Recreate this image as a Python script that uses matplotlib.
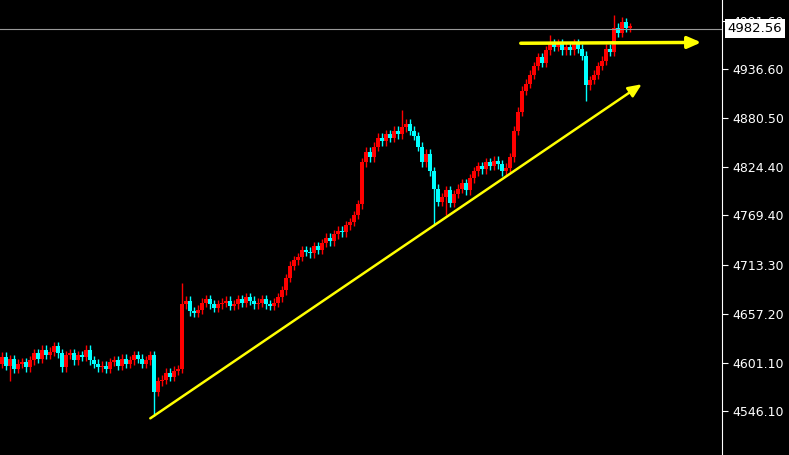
import matplotlib
matplotlib.use("Agg")
from matplotlib import pyplot as plt
from matplotlib.patches import Rectangle

# closes per bar, open = previous close
closes = [4608, 4598, 4605, 4594, 4600, 4602, 4596, 4604, 4612, 4606, 4616, 4610, 4614, 4620, 4612, 4596,
          4610, 4612, 4604, 4610, 4608, 4616, 4604, 4600, 4596, 4598, 4594, 4602, 4604, 4598, 4606, 4600,
          4604, 4610, 4606, 4600, 4604, 4610,
          4568,
          4580, 4582, 4590, 4585, 4592, 4594,
          4668,
          4672, 4660, 4658, 4662, 4670, 4674, 4668, 4664, 4668, 4670, 4672, 4666, 4668, 4674, 4670, 4676,
          4672, 4668, 4670, 4674, 4668, 4666, 4670, 4676, 4684,
          4698, 4712, 4718, 4722, 4730, 4728, 4726, 4734, 4730, 4738,
          4744, 4740, 4748, 4752, 4750, 4758, 4762, 4770, 4782,
          4830, 4842, 4836,
          4848, 4858, 4854, 4862, 4858, 4866, 4862, 4870, 4874, 4866, 4860,
          4848, 4830, 4840, 4820, 4800, 4785, 4790,
          4798, 4784, 4794, 4800, 4806, 4798, 4812, 4820,
          4826, 4822, 4830, 4826, 4832, 4828, 4820, 4824, 4836,
          4866, 4888, 4912, 4920, 4930, 4940, 4950, 4944, 4958, 4966,
          4962, 4966, 4958, 4962, 4958, 4966, 4960, 4952, 4918,
          4924, 4930, 4940, 4946, 4960, 4956,
          4984, 4978, 4990, 4984, 4984]
first_open = 4600
extra_highs = {45: 4692, 100: 4890, 137: 4975, 153: 4998, 155: 4996}
extra_lows = {38: 4540, 2: 4580, 108: 4760, 146: 4900, 111: 4770}

yticks = [4991.60, 4936.60, 4880.50, 4824.40, 4769.40, 4713.30, 4657.20, 4601.10, 4546.10]
last_price = 4982.56
trend_start = (36.5, 4536)
trend_end = (160.5, 4921)
res_start = (129, 4966)
res_end = (175.5, 4967)

fig = plt.figure(figsize=(7.89, 4.55), dpi=100, facecolor="black")
ax = fig.add_axes([0, 0, 722 / 789, 1], facecolor="black")

prev = first_open
for i, c in enumerate(closes):
    o = prev
    col = "#ff0000" if c >= o else "#00ffff"
    hi = extra_highs.get(i, max(o, c) + 5)
    lo = extra_lows.get(i, min(o, c) - 5)
    ax.vlines(i, lo, hi, color=col, lw=1)
    ax.add_patch(Rectangle((i - 0.38, min(o, c)), 0.76, max(abs(c - o), 1.5), color=col, lw=0))
    prev = c

ax.axhline(last_price, color="#999999", lw=0.8)
ax.annotate("", xy=trend_end, xytext=trend_start,
            arrowprops=dict(arrowstyle="-|>,head_length=0.8,head_width=0.35", color="#ffff00", lw=1.8))
ax.annotate("", xy=res_end, xytext=res_start,
            arrowprops=dict(arrowstyle="-|>,head_length=0.8,head_width=0.35", color="#ffff00", lw=2.5))

ax.set_xlim(-0.5, 180)
ax.set_ylim(4495.9, 5015.4)
ax.set_xticks([])
ax.yaxis.tick_right()
ax.set_yticks(yticks)
ax.set_yticklabels(["%.2f" % v for v in yticks])
ax.tick_params(axis="y", colors="white", labelsize=9, length=4, direction="out")
for s in ["top", "left", "bottom"]:
    ax.spines[s].set_visible(False)
ax.spines["right"].set_color("white")

ax.text(1.008, last_price, "%.2f" % last_price, transform=ax.get_yaxis_transform(),
        color="black", fontsize=9.5, va="center", ha="left", clip_on=False,
        bbox=dict(facecolor="white", edgecolor="none", pad=2))

fig.savefig("out.png", dpi=100, facecolor="black")
